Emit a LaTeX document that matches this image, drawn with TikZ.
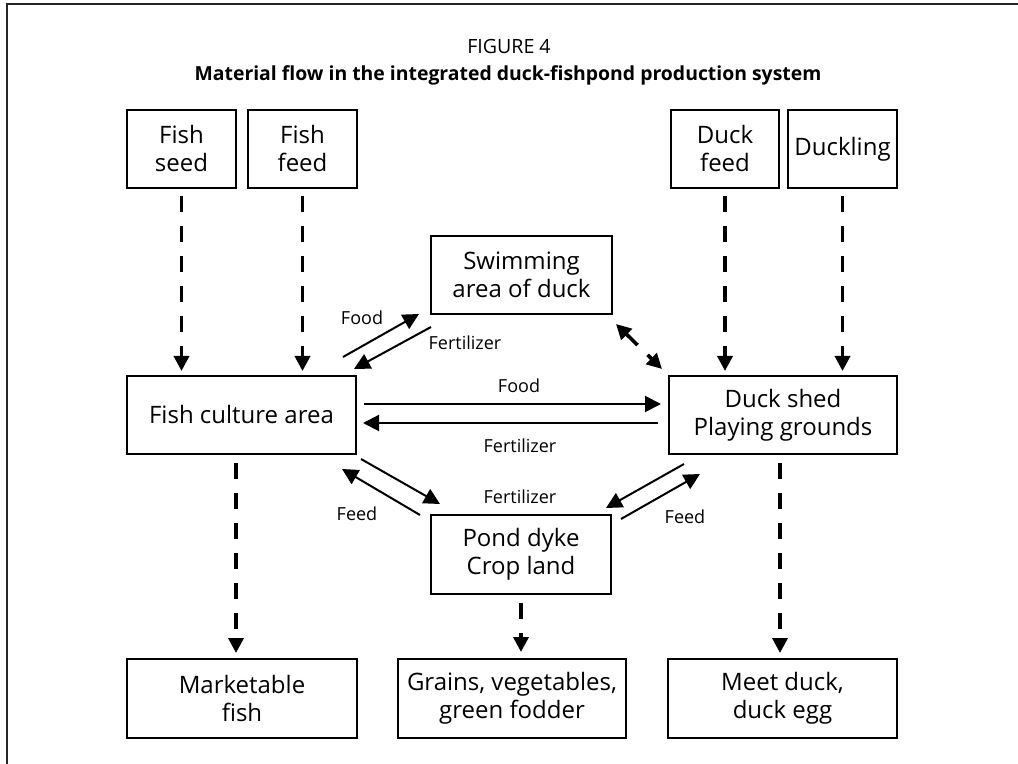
\documentclass[tikz,border=0pt]{standalone}
\usepackage{fontspec}
\setmainfont{Open Sans}
\usetikzlibrary{arrows.meta,calc}

\begin{document}
\begin{tikzpicture}[x=0.5pt,y=-0.5pt,
    boite/.style={draw, line width=1pt, align=center, inner sep=0pt, font=\fontsize{12}{14}\selectfont},
    etiq/.style={font=\fontsize{9}{11}\selectfont},
    fleche/.style={line width=1pt, -{Triangle[length=8pt,width=8pt]}},
    pointille/.style={line width=1.8pt, dash pattern=on 8pt off 7pt, -{Triangle[length=7.5pt,width=7.5pt]}}]
        \useasboundingbox (0,0) rectangle (1018,764);
        % Cadre
        \draw[line width=1.1pt, black!85] (7,764) -- (7,4) -- (1018,4);
        % Titre
        \node[font=\fontsize{9.8}{11}\selectfont] (fig) at (509,47) {FIGURE 4};
        \node[font=\bfseries\fontsize{9.7}{12}\selectfont] (titre) at (508,75) {Material flow in the integrated duck-fishpond production system};
        % Intrants
        \node[boite, minimum width=54.5pt, minimum height=39pt] (fseed) at (181.5,149) {Fish\\seed};
        \node[boite, minimum width=54.5pt, minimum height=39pt] (ffeed) at (302.5,149) {Fish\\feed};
        \node[boite, minimum width=54pt, minimum height=39pt] (dfeed) at (725,149) {Duck\\feed};
        \node[boite, minimum width=54.5pt, minimum height=39pt] (dling) at (842.5,149) {Duckling};
        % Milieu
        \node[boite, minimum width=90.5pt, minimum height=39pt] (swim) at (521.5,275) {Swimming\\area of duck};
        \node[boite, minimum width=114.5pt, minimum height=39pt] (fca) at (241.5,415) {Fish culture area};
        \node[boite, minimum width=114pt, minimum height=39pt] (dshed) at (783,415) {Duck shed\\Playing grounds};
        \node[boite, minimum width=90pt, minimum height=39.5pt] (pond) at (521,554.5) {Pond dyke\\Crop land};
        % Produits
        \node[boite, minimum width=115pt, minimum height=39.5pt] (mfish) at (242,698.5) {Marketable\\fish};
        \node[boite, minimum width=114pt, minimum height=39.5pt] (grains) at (512,698.5) {Grains, vegetables,\\green fodder};
        \node[boite, minimum width=114.5pt, minimum height=39.5pt] (meet) at (782.5,698.5) {Meet duck,\\duck egg};

        % Fleches pointillees
        \draw[pointille, shorten <=3.5pt, shorten >=2pt] (fseed) -- (fseed |- fca.north);
        \draw[pointille, shorten <=3.5pt, shorten >=2pt] (ffeed) -- (ffeed |- fca.north);
        \draw[pointille, shorten <=3.5pt, shorten >=2pt] (dfeed) -- (dfeed |- dshed.north);
        \draw[pointille, shorten <=3.5pt, shorten >=2pt] (dling) -- (dling |- dshed.north);
        \draw[pointille, shorten <=4.5pt, shorten >=3pt] (236,454) -- (236,659);
        \draw[pointille, shorten <=4pt, shorten >=3pt] (pond) -- (pond |- grains.north);
        \draw[pointille, shorten <=4.5pt, shorten >=3pt] (780,454) -- (780,659);
        \draw[pointille, {Triangle[length=7.5pt,width=7.5pt]}-{Triangle[length=7.5pt,width=7.5pt]}]
            ($(swim.south east)+(3,9)$) -- ($(dshed.north west)+(-6,-6)$);

        % Fleches pleines
        \draw[fleche] ($(fca.north east)+(-14,-18)$) -- ($(swim.south west)+(-11,-1)$);
        \draw[fleche] ($(swim.south west)+(1,12)$) -- ($(fca.north east)+(-3,-6)$);
        \draw[fleche] ($(fca.east)+(7,-11)$) -- ($(dshed.west)+(-7,-11)$);
        \draw[fleche] ($(dshed.west)+(-10,8)$) -- ($(fca.east)+(6,8)$);
        \draw[fleche] ($(fca.south east)+(4,4)$) -- ($(pond.north west)+(10,-10)$);
        \draw[fleche] ($(pond.north west)+(-10,1)$) -- ($(fca.south east)+(-15,14)$);
        \draw[fleche] ($(dshed.south west)+(16,9)$) -- ($(pond.north east)+(-6,-6)$);
        \draw[fleche] ($(pond.north east)+(9,5)$) -- ($(dshed.south west)+(32,19)$);

        % Etiquettes
        \node[etiq] (lfood) at (362,318) {Food};
        \node[etiq] (lfert) at (465,343) {Fertilizer};
        \node[etiq] (lfoodm) at (519,386) {Food};
        \node[etiq] (lfertm) at (520,446) {Fertilizer};
        \node[etiq] (lfertp) at (520,497) {Fertilizer};
        \node[etiq] (lfeedg) at (357,514) {Feed};
        \node[etiq] (lfeedd) at (685,517) {Feed};
\end{tikzpicture}
\end{document}
